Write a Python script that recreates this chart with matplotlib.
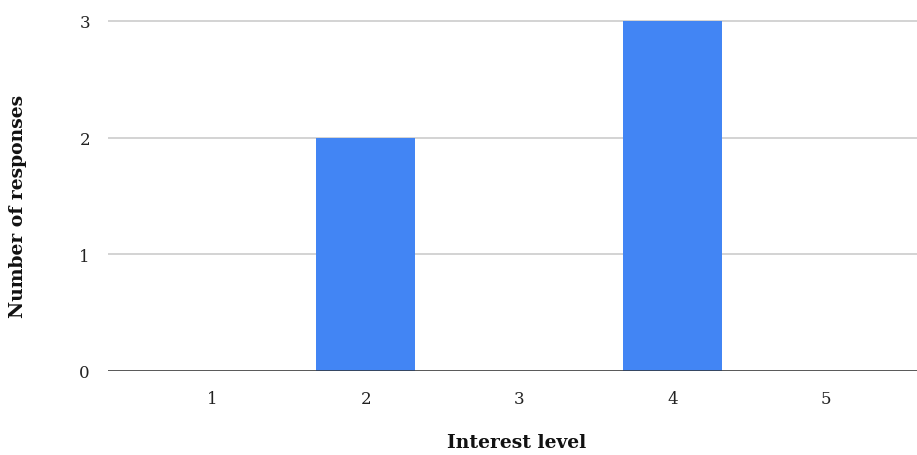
import matplotlib.pyplot as plt

# Survey responses per interest level
levels = ['1', '2', '3', '4', '5']
responses = [0, 2, 0, 3, 0]
y_ticks = [0, 1, 2, 3]

plt.rcParams['font.family'] = ['DejaVu Serif']

fig = plt.figure(figsize=(9.17, 4.56), dpi=100)
ax = fig.add_axes([108 / 917, 84 / 456, 809 / 917, 365 / 456])

x = range(len(levels))
ax.bar(x, responses, width=0.646, color='#4285f4', zorder=3)

ax.set_xlim(-0.682, 4.597)
ax.set_ylim(0, 3 * 365 / 350)
ax.set_yticks(y_ticks)
ax.set_xticks(list(x))
ax.set_xticklabels(levels)
ax.yaxis.grid(True, color='#cccccc', linewidth=1.2, zorder=0)
ax.axhline(0, color='#333333', linewidth=1.8, zorder=4)

for side in ['top', 'right', 'left', 'bottom']:
    ax.spines[side].set_visible(False)
ax.tick_params(axis='both', length=0, labelsize=12, colors='#222222')
ax.tick_params(axis='x', pad=14)
ax.tick_params(axis='y', pad=13)

# axis titles placed in figure coordinates
fig.text(517 / 917, 1 - 443 / 456, 'Interest level', fontsize=13.5,
         fontweight='bold', ha='center', va='center', color='#111111')
fig.text(18 / 917, 1 - 206 / 456, 'Number of responses', fontsize=13.5,
         fontweight='bold', ha='center', va='center', rotation=90,
         color='#111111')

fig.savefig('out.png', dpi=100, facecolor='white')
